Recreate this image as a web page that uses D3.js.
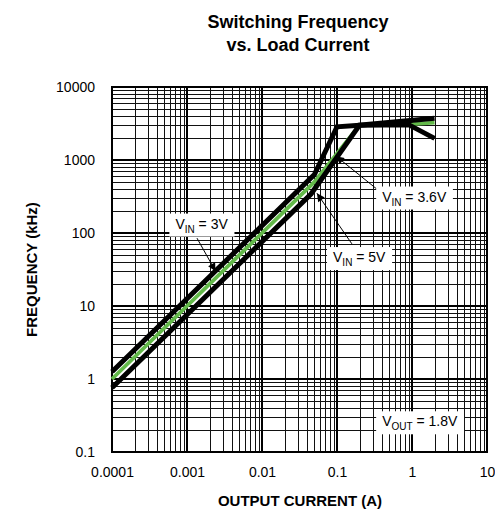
<!DOCTYPE html>
<html>
<head>
<meta charset="utf-8">
<script src="https://cdn.jsdelivr.net/npm/d3@7/dist/d3.min.js"></script>
<style>
  html, body { margin: 0; padding: 0; background: #fff; }
  svg { display: block; font-family: "Liberation Sans", Arial, sans-serif; }
</style>
</head>
<body>
<svg id="chart" width="495" height="518"></svg>
<script>
// Output current (A) and switching frequency (kHz) for each input voltage
const vin3Current  = [0.0001, 0.05, 0.1, 0.2, 0.9, 2];
const vin3Freq     = [1.26, 630, 2850, 3000, 3050, 1980];
const vin36Current = [0.0001, 0.05, 0.2, 1, 2];
const vin36Freq    = [1.0, 500, 3000, 3100, 3250];
const vin5Current  = [0.0001, 0.045, 0.2, 2];
const vin5Freq     = [0.76, 342, 3000, 3725];

// Axis decades and tick labels
const xDecades = [0.0001, 0.001, 0.01, 0.1, 1, 10];
const xTickLabels = ["0.0001", "0.001", "0.01", "0.1", "1", "10"];
const yDecades = [0.1, 1, 10, 100, 1000, 10000];
const yTickLabels = ["0.1", "1", "10", "100", "1000", "10000"];

const svg = d3.select("#chart");
const plotLeft = 112, plotRight = 487, plotTop = 87, plotBottom = 452;

const x = d3.scaleLog().domain([0.0001, 10]).range([plotLeft, plotRight]);
const y = d3.scaleLog().domain([0.1, 10000]).range([plotBottom, plotTop]);

// Minor grid values: 2..9 within each decade
const minor = (decades) => decades.slice(0, -1).flatMap(d => d3.range(2, 10).map(k => d * k));

const grid = svg.append("g");
grid.selectAll("line.xminor").data(minor(xDecades)).join("line")
  .attr("x1", d => Math.round(x(d)) + 0.5).attr("x2", d => Math.round(x(d)) + 0.5)
  .attr("y1", plotTop).attr("y2", plotBottom)
  .attr("stroke", "#111").attr("stroke-width", 1);
grid.selectAll("line.yminor").data(minor(yDecades)).join("line")
  .attr("y1", d => Math.round(y(d)) + 0.5).attr("y2", d => Math.round(y(d)) + 0.5)
  .attr("x1", plotLeft).attr("x2", plotRight)
  .attr("stroke", "#111").attr("stroke-width", 1);
grid.selectAll("line.xmajor").data(xDecades).join("line")
  .attr("x1", d => x(d)).attr("x2", d => x(d))
  .attr("y1", plotTop).attr("y2", plotBottom)
  .attr("stroke", "#000").attr("stroke-width", 2);
grid.selectAll("line.ymajor").data(yDecades).join("line")
  .attr("y1", d => y(d)).attr("y2", d => y(d))
  .attr("x1", plotLeft).attr("x2", plotRight)
  .attr("stroke", "#000").attr("stroke-width", 2);

// Axes (labels only; the frame is drawn separately)
const xAxis = d3.axisBottom(x).tickValues(xDecades)
  .tickFormat((d, i) => xTickLabels[i]).tickSize(0).tickPadding(15);
svg.append("g").attr("transform", `translate(0,${plotBottom})`).call(xAxis)
  .call(g => g.select(".domain").remove())
  .selectAll("text").attr("font-size", 14).attr("fill", "#000")
  .attr("font-family", "Liberation Sans, Arial, sans-serif");

const yAxis = d3.axisLeft(y).tickValues(yDecades)
  .tickFormat((d, i) => yTickLabels[i]).tickSize(0).tickPadding(17);
svg.append("g").attr("transform", `translate(${plotLeft},0)`).call(yAxis)
  .call(g => g.select(".domain").remove())
  .selectAll("text").attr("font-size", 14).attr("fill", "#000")
  .attr("font-family", "Liberation Sans, Arial, sans-serif");

// Plot frame
svg.append("rect").attr("x", plotLeft).attr("y", plotTop)
  .attr("width", plotRight - plotLeft).attr("height", plotBottom - plotTop)
  .attr("fill", "none").attr("stroke", "#000").attr("stroke-width", 2);

// Curves
const line = d3.line().x(d => x(d[0])).y(d => y(d[1]));
const series = [
  { current: vin36Current, freq: vin36Freq, color: "#63b94a", width: 3.8 },
  { current: vin3Current,  freq: vin3Freq,  color: "#000",    width: 5 },
  { current: vin5Current,  freq: vin5Freq,  color: "#000",    width: 5 }
];
svg.append("g").selectAll("path").data(series).join("path")
  .attr("d", s => line(s.current.map((c, i) => [c, s.freq[i]])))
  .attr("fill", "none").attr("stroke", s => s.color)
  .attr("stroke-width", s => s.width).attr("stroke-linejoin", "miter");

// Annotations: label text, label anchor (current, freq), arrow tail and tip
const labels = [
  { main: "V", sub: "IN",  rest: " = 3V",   at: [0.0007, 115], tail: [0.00136, 85], tip: [0.0024, 30] },
  { main: "V", sub: "IN",  rest: " = 3.6V", at: [0.4, 270],    tail: [0.35, 390],   tip: [0.097, 1130] },
  { main: "V", sub: "IN",  rest: " = 5V",   at: [0.0885, 40],  tail: [0.158, 71],   tip: [0.054, 350] },
  { main: "V", sub: "OUT", rest: " = 1.8V", at: [0.4, 0.225],  tail: null, tip: null }
];

svg.append("defs").append("marker")
  .attr("id", "arrow").attr("viewBox", "0 0 10 10")
  .attr("refX", 10).attr("refY", 5)
  .attr("markerWidth", 10).attr("markerHeight", 8)
  .attr("markerUnits", "userSpaceOnUse")
  .attr("orient", "auto")
  .append("path").attr("d", "M0,0 L10,5 L0,10 z").attr("fill", "#000");

const ann = svg.append("g");
labels.forEach(l => {
  if (l.tail) {
    ann.append("line")
      .attr("x1", x(l.tail[0])).attr("y1", y(l.tail[1]))
      .attr("x2", x(l.tip[0])).attr("y2", y(l.tip[1]))
      .attr("stroke", "#000").attr("stroke-width", 1)
      .attr("marker-end", "url(#arrow)");
  }
  const g = ann.append("g");
  const t = g.append("text")
    .attr("x", x(l.at[0])).attr("y", y(l.at[1]))
    .attr("font-size", 14).attr("fill", "#000");
  t.append("tspan").text(l.main);
  t.append("tspan").attr("font-size", 10).attr("dy", 4).text(l.sub);
  t.append("tspan").attr("dy", -4).text(l.rest);
  const b = t.node().getBBox();
  g.insert("rect", "text")
    .attr("x", b.x - 6).attr("y", b.y - 2)
    .attr("width", b.width + 12).attr("height", b.height + 4)
    .attr("fill", "#fff");
});

// Titles
svg.append("text").attr("x", 298).attr("y", 28).attr("text-anchor", "middle")
  .attr("font-size", 18).attr("font-weight", "bold").text("Switching Frequency");
svg.append("text").attr("x", 298).attr("y", 51).attr("text-anchor", "middle")
  .attr("font-size", 18).attr("font-weight", "bold").text("vs. Load Current");
svg.append("text").attr("x", 300).attr("y", 506).attr("text-anchor", "middle")
  .attr("font-size", 15).attr("font-weight", "bold").text("OUTPUT CURRENT (A)");
svg.append("text").attr("transform", `translate(37,${(plotTop + plotBottom) / 2}) rotate(-90)`)
  .attr("text-anchor", "middle")
  .attr("font-size", 15).attr("font-weight", "bold").text("FREQUENCY (kHz)");
</script>
</body>
</html>
